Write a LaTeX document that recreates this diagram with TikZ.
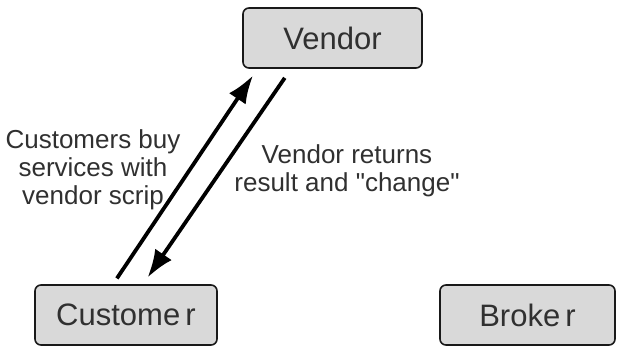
\documentclass[tikz,border=0pt]{standalone}
\usepackage{fontspec}
\setmainfont{Liberation Sans}[Ligatures=TeXOff]
\usetikzlibrary{arrows.meta,calc}
\definecolor{boxfill}{HTML}{D9D9D9}
\definecolor{inkgray}{HTML}{303030}
\begin{document}
\begin{tikzpicture}[x=1pt,y=-1pt,
  party/.style={draw=black!90, line width=1.6pt, fill=boxfill, rounded corners=6pt,
    minimum height=60pt, inner sep=0pt, text=inkgray,
    font=\fontsize{31}{37}\selectfont},
  label/.style={align=center, inner sep=0pt, text=inkgray,
    font=\fontsize{26}{28}\selectfont},
  flow/.style={line width=3.8pt, -{Latex[length=28pt,width=20pt]}}]
\useasboundingbox (0,0) rectangle (617,347);

% the three parties
\node[party, minimum width=179pt] (vendor)   at (332.5,38) {Vendor};
\node[party, minimum width=182pt] (customer) at (126,315)  {Custome\,r};
\node[party, minimum width=175pt] (broker)   at (527.5,315) {Broke\,r};

% payment up, result and change back down
\draw[flow, shorten <=7pt, shorten >=8pt]
  ($(customer.north)+(-13,0)$) -- ($(vendor.south)+(-75,0)$);
\draw[flow, shorten <=11pt, shorten >=8pt]
  ($(vendor.south)+(-41.5,0)$) -- ($(customer.north)+(17,0)$);

% captions beside the arrows
\node[label, anchor=north] (buy) at (93,129)
  {Customers buy\\services with\\vendor scrip};
\node[label, anchor=north] (ret) at (347,144)
  {Vendor returns\\result and "change"};
\end{tikzpicture}
\end{document}
